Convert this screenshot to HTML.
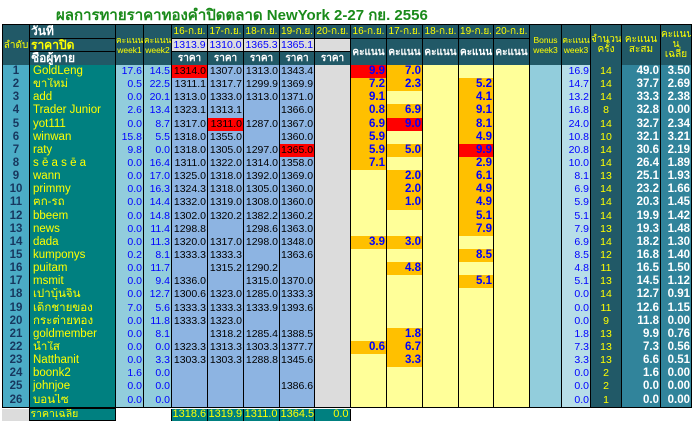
<!DOCTYPE html>
<html><head><meta charset="utf-8"><style>
body{margin:0;background:#fff;width:695px;height:426px;overflow:hidden;font-family:"Liberation Sans","Noto Sans CJK SC",sans-serif;}
.t{position:absolute;left:56px;top:3px;font-size:15px;font-weight:bold;color:#1a8a1a;white-space:nowrap;}
table{position:absolute;left:2px;border-collapse:collapse;table-layout:fixed;width:689px;}
td{padding:0 1px;font-size:10.5px;line-height:11px;overflow:hidden;white-space:nowrap;border-left:1px solid #000;border-right:1px solid #000;height:10px;}
.h td{background:#215967;color:#fff;border:1px solid #000;text-align:center;font-weight:bold;font-size:10px;}
.h .y{color:#ffff00;font-weight:normal;}
.h .sm{font-size:8.5px;line-height:10px;font-weight:normal;color:#ffff00;}
.h .cp{background:#dcdcdc;color:#0000ff;font-weight:normal;font-size:10.5px;}
.r{background:#4bacc6;color:#17375e;font-weight:bold;text-align:center;font-size:11.5px;}
.n{background:#008080;color:#ffff00;font-size:11.5px;padding-left:3px;}
.w{background:#92cddc;color:#0000ff;text-align:right;}
.p{background:#8db4e2;color:#000;text-align:right;}
.pr{background:#ff0000;color:#000;text-align:right;}
.g{background:#dcdcdc;}
.s{background:#ffff99;color:#0000ff;font-weight:bold;text-align:right;font-size:11.5px;}
.o{background:#ffc000;color:#0000ff;font-weight:bold;text-align:right;font-size:11.5px;}
.sr{background:#ff0000;color:#0000ff;font-weight:bold;text-align:right;font-size:11.5px;}
.b{background:#92cddc;}
.w3{background:#b7dee8;color:#0000ff;text-align:right;}
.c{background:#215967;color:#ffff00;text-align:center;}
.tt{background:#31849b;color:#fff;font-weight:bold;text-align:right;font-size:11.5px;}
.last td{border-bottom:1px solid #000;}
.f td{border:none;}
.f .fn{background:#008080;color:#ffff00;border:1px solid #000;}
.f .fp{background:#008080;color:#ffff00;text-align:right;border-left:1px solid #000;font-size:11px;}
</style></head><body>
<div class="t">ผลการทายราคาทองคำปิดตลาด NewYork 2-27 กย. 2556</div>
<table style="top:24px;height:41px">
<colgroup><col style="width:27px"><col style="width:86px"><col style="width:28px"><col style="width:28px"><col style="width:36px"><col style="width:36px"><col style="width:36px"><col style="width:35px"><col style="width:36px"><col style="width:36px"><col style="width:36px"><col style="width:36px"><col style="width:35px"><col style="width:36px"><col style="width:32px"><col style="width:29px"><col style="width:31px"><col style="width:39px"><col style="width:31px"></colgroup>
<tr class="h" style="height:14px"><td rowspan="3" class="y" style="padding:0">ลำดับ</td><td style="text-align:left;font-size:12px">วันที่</td><td rowspan="3" class="sm" style="padding:0">คะแนน<br>week1</td><td rowspan="3" class="sm" style="padding:0">คะแนน<br>week2</td><td class="y">16-ก.ย.</td><td class="y">17-ก.ย.</td><td class="y">18-ก.ย.</td><td class="y">19-ก.ย.</td><td class="y">20-ก.ย.</td><td class="y">16-ก.ย.</td><td class="y">17-ก.ย.</td><td class="y">18-ก.ย.</td><td class="y">19-ก.ย.</td><td class="y">20-ก.ย.</td><td rowspan="3" class="sm" style="padding:0">Bonus<br>week3</td><td rowspan="3" class="sm" style="padding:0">คะแนน<br>week3</td><td rowspan="3" class="sm" style="padding:0;font-size:10px">จำนวน<br>ครั้ง</td><td rowspan="3" class="sm" style="padding:0;font-size:10px">คะแนน<br>สะสม</td><td rowspan="3" class="sm" style="padding:0;font-size:10px">คะแนน<br>น<br>เฉลี่ย</td></tr>
<tr class="h" style="height:13px"><td class="y" style="text-align:left;font-size:12px;font-weight:bold">ราคาปิด</td><td class="cp">1313.9</td><td class="cp">1310.0</td><td class="cp">1365.3</td><td class="cp">1365.1</td><td class="cp"></td><td rowspan="2">คะแนน</td><td rowspan="2">คะแนน</td><td rowspan="2">คะแนน</td><td rowspan="2">คะแนน</td><td rowspan="2">คะแนน</td></tr>
<tr class="h" style="height:14px"><td style="text-align:left;font-size:12px">ชื่อผู้ทาย</td><td>ราคา</td><td>ราคา</td><td>ราคา</td><td>ราคา</td><td>ราคา</td></tr>
</table>
<table style="top:65px;height:343px">
<colgroup><col style="width:27px"><col style="width:86px"><col style="width:28px"><col style="width:28px"><col style="width:36px"><col style="width:36px"><col style="width:36px"><col style="width:35px"><col style="width:36px"><col style="width:36px"><col style="width:36px"><col style="width:36px"><col style="width:35px"><col style="width:36px"><col style="width:32px"><col style="width:29px"><col style="width:31px"><col style="width:39px"><col style="width:31px"></colgroup>
<tr><td class="r">1</td><td class="n">GoldLeng</td><td class="w">17.6</td><td class="w">14.5</td><td class="pr">1314.0</td><td class="p">1307.0</td><td class="p">1313.0</td><td class="p">1343.4</td><td class="g"></td><td class="sr">9.9</td><td class="o">7.0</td><td class="s"></td><td class="s"></td><td class="s"></td><td class="b"></td><td class="w3">16.9</td><td class="c">14</td><td class="tt">49.0</td><td class="tt">3.50</td></tr>
<tr><td class="r">2</td><td class="n">ขาใหม่</td><td class="w">0.5</td><td class="w">22.5</td><td class="p">1311.1</td><td class="p">1317.7</td><td class="p">1299.9</td><td class="p">1369.9</td><td class="g"></td><td class="o">7.2</td><td class="o">2.3</td><td class="s"></td><td class="o">5.2</td><td class="s"></td><td class="b"></td><td class="w3">14.7</td><td class="c">14</td><td class="tt">37.7</td><td class="tt">2.69</td></tr>
<tr><td class="r">3</td><td class="n">add</td><td class="w">0.0</td><td class="w">20.1</td><td class="p">1313.0</td><td class="p">1333.0</td><td class="p">1313.0</td><td class="p">1371.0</td><td class="g"></td><td class="o">9.1</td><td class="s"></td><td class="s"></td><td class="o">4.1</td><td class="s"></td><td class="b"></td><td class="w3">13.2</td><td class="c">14</td><td class="tt">33.3</td><td class="tt">2.38</td></tr>
<tr><td class="r">4</td><td class="n">Trader Junior</td><td class="w">2.6</td><td class="w">13.4</td><td class="p">1323.1</td><td class="p">1313.1</td><td class="p"></td><td class="p">1366.0</td><td class="g"></td><td class="o">0.8</td><td class="o">6.9</td><td class="s"></td><td class="o">9.1</td><td class="s"></td><td class="b"></td><td class="w3">16.8</td><td class="c">8</td><td class="tt">32.8</td><td class="tt">0.00</td></tr>
<tr><td class="r">5</td><td class="n">yot111</td><td class="w">0.0</td><td class="w">8.7</td><td class="p">1317.0</td><td class="pr">1311.0</td><td class="p">1287.0</td><td class="p">1367.0</td><td class="g"></td><td class="o">6.9</td><td class="sr">9.0</td><td class="s"></td><td class="o">8.1</td><td class="s"></td><td class="b"></td><td class="w3">24.0</td><td class="c">14</td><td class="tt">32.7</td><td class="tt">2.34</td></tr>
<tr><td class="r">6</td><td class="n">winwan</td><td class="w">15.8</td><td class="w">5.5</td><td class="p">1318.0</td><td class="p">1355.0</td><td class="p"></td><td class="p">1360.0</td><td class="g"></td><td class="o">5.9</td><td class="s"></td><td class="s"></td><td class="o">4.9</td><td class="s"></td><td class="b"></td><td class="w3">10.8</td><td class="c">10</td><td class="tt">32.1</td><td class="tt">3.21</td></tr>
<tr><td class="r">7</td><td class="n">raty</td><td class="w">9.8</td><td class="w">0.0</td><td class="p">1318.0</td><td class="p">1305.0</td><td class="p">1297.0</td><td class="pr">1365.0</td><td class="g"></td><td class="o">5.9</td><td class="o">5.0</td><td class="s"></td><td class="sr">9.9</td><td class="s"></td><td class="b"></td><td class="w3">20.8</td><td class="c">14</td><td class="tt">30.6</td><td class="tt">2.19</td></tr>
<tr><td class="r">8</td><td class="n">s ē a s ē a</td><td class="w">0.0</td><td class="w">16.4</td><td class="p">1311.0</td><td class="p">1322.0</td><td class="p">1314.0</td><td class="p">1358.0</td><td class="g"></td><td class="o">7.1</td><td class="s"></td><td class="s"></td><td class="o">2.9</td><td class="s"></td><td class="b"></td><td class="w3">10.0</td><td class="c">14</td><td class="tt">26.4</td><td class="tt">1.89</td></tr>
<tr><td class="r">9</td><td class="n">wann</td><td class="w">0.0</td><td class="w">17.0</td><td class="p">1325.0</td><td class="p">1318.0</td><td class="p">1392.0</td><td class="p">1369.0</td><td class="g"></td><td class="s"></td><td class="o">2.0</td><td class="s"></td><td class="o">6.1</td><td class="s"></td><td class="b"></td><td class="w3">8.1</td><td class="c">13</td><td class="tt">25.1</td><td class="tt">1.93</td></tr>
<tr><td class="r">10</td><td class="n">primmy</td><td class="w">0.0</td><td class="w">16.3</td><td class="p">1324.3</td><td class="p">1318.0</td><td class="p">1305.0</td><td class="p">1360.0</td><td class="g"></td><td class="s"></td><td class="o">2.0</td><td class="s"></td><td class="o">4.9</td><td class="s"></td><td class="b"></td><td class="w3">6.9</td><td class="c">14</td><td class="tt">23.2</td><td class="tt">1.66</td></tr>
<tr><td class="r">11</td><td class="n">ฅก-รถ</td><td class="w">0.0</td><td class="w">14.4</td><td class="p">1332.0</td><td class="p">1319.0</td><td class="p">1308.0</td><td class="p">1360.0</td><td class="g"></td><td class="s"></td><td class="o">1.0</td><td class="s"></td><td class="o">4.9</td><td class="s"></td><td class="b"></td><td class="w3">5.9</td><td class="c">14</td><td class="tt">20.3</td><td class="tt">1.45</td></tr>
<tr><td class="r">12</td><td class="n">bbeem</td><td class="w">0.0</td><td class="w">14.8</td><td class="p">1302.0</td><td class="p">1320.2</td><td class="p">1382.2</td><td class="p">1360.2</td><td class="g"></td><td class="s"></td><td class="s"></td><td class="s"></td><td class="o">5.1</td><td class="s"></td><td class="b"></td><td class="w3">5.1</td><td class="c">14</td><td class="tt">19.9</td><td class="tt">1.42</td></tr>
<tr><td class="r">13</td><td class="n">news</td><td class="w">0.0</td><td class="w">11.4</td><td class="p">1298.8</td><td class="p"></td><td class="p">1298.6</td><td class="p">1363.0</td><td class="g"></td><td class="s"></td><td class="s"></td><td class="s"></td><td class="o">7.9</td><td class="s"></td><td class="b"></td><td class="w3">7.9</td><td class="c">13</td><td class="tt">19.3</td><td class="tt">1.48</td></tr>
<tr><td class="r">14</td><td class="n">dada</td><td class="w">0.0</td><td class="w">11.3</td><td class="p">1320.0</td><td class="p">1317.0</td><td class="p">1298.0</td><td class="p">1348.0</td><td class="g"></td><td class="o">3.9</td><td class="o">3.0</td><td class="s"></td><td class="s"></td><td class="s"></td><td class="b"></td><td class="w3">6.9</td><td class="c">14</td><td class="tt">18.2</td><td class="tt">1.30</td></tr>
<tr><td class="r">15</td><td class="n">kumponys</td><td class="w">0.2</td><td class="w">8.1</td><td class="p">1333.3</td><td class="p">1333.3</td><td class="p"></td><td class="p">1363.6</td><td class="g"></td><td class="s"></td><td class="s"></td><td class="s"></td><td class="o">8.5</td><td class="s"></td><td class="b"></td><td class="w3">8.5</td><td class="c">12</td><td class="tt">16.8</td><td class="tt">1.40</td></tr>
<tr><td class="r">16</td><td class="n">puitam</td><td class="w">0.0</td><td class="w">11.7</td><td class="p"></td><td class="p">1315.2</td><td class="p">1290.2</td><td class="p"></td><td class="g"></td><td class="s"></td><td class="o">4.8</td><td class="s"></td><td class="s"></td><td class="s"></td><td class="b"></td><td class="w3">4.8</td><td class="c">11</td><td class="tt">16.5</td><td class="tt">1.50</td></tr>
<tr><td class="r">17</td><td class="n">msmit</td><td class="w">0.0</td><td class="w">9.4</td><td class="p">1336.0</td><td class="p"></td><td class="p">1315.0</td><td class="p">1370.0</td><td class="g"></td><td class="s"></td><td class="s"></td><td class="s"></td><td class="o">5.1</td><td class="s"></td><td class="b"></td><td class="w3">5.1</td><td class="c">13</td><td class="tt">14.5</td><td class="tt">1.12</td></tr>
<tr><td class="r">18</td><td class="n">เปาบุ้นจิ้น</td><td class="w">0.0</td><td class="w">12.7</td><td class="p">1300.6</td><td class="p">1323.0</td><td class="p">1285.0</td><td class="p">1333.3</td><td class="g"></td><td class="s"></td><td class="s"></td><td class="s"></td><td class="s"></td><td class="s"></td><td class="b"></td><td class="w3">0.0</td><td class="c">14</td><td class="tt">12.7</td><td class="tt">0.91</td></tr>
<tr><td class="r">19</td><td class="n">เด็กชายของ</td><td class="w">7.0</td><td class="w">5.6</td><td class="p">1333.3</td><td class="p">1333.3</td><td class="p">1333.9</td><td class="p">1393.6</td><td class="g"></td><td class="s"></td><td class="s"></td><td class="s"></td><td class="s"></td><td class="s"></td><td class="b"></td><td class="w3">0.0</td><td class="c">11</td><td class="tt">12.6</td><td class="tt">1.15</td></tr>
<tr><td class="r">20</td><td class="n">กระต่ายทอง</td><td class="w">0.0</td><td class="w">11.8</td><td class="p">1333.3</td><td class="p">1323.0</td><td class="p"></td><td class="p"></td><td class="g"></td><td class="s"></td><td class="s"></td><td class="s"></td><td class="s"></td><td class="s"></td><td class="b"></td><td class="w3">0.0</td><td class="c">9</td><td class="tt">11.8</td><td class="tt">0.00</td></tr>
<tr><td class="r">21</td><td class="n">goldmember</td><td class="w">0.0</td><td class="w">8.1</td><td class="p"></td><td class="p">1318.2</td><td class="p">1285.4</td><td class="p">1388.5</td><td class="g"></td><td class="s"></td><td class="o">1.8</td><td class="s"></td><td class="s"></td><td class="s"></td><td class="b"></td><td class="w3">1.8</td><td class="c">13</td><td class="tt">9.9</td><td class="tt">0.76</td></tr>
<tr><td class="r">22</td><td class="n">น้ำใส</td><td class="w">0.0</td><td class="w">0.0</td><td class="p">1323.3</td><td class="p">1313.3</td><td class="p">1303.3</td><td class="p">1377.7</td><td class="g"></td><td class="o">0.6</td><td class="o">6.7</td><td class="s"></td><td class="s"></td><td class="s"></td><td class="b"></td><td class="w3">7.3</td><td class="c">13</td><td class="tt">7.3</td><td class="tt">0.56</td></tr>
<tr><td class="r">23</td><td class="n">Natthanit</td><td class="w">0.0</td><td class="w">3.3</td><td class="p">1303.3</td><td class="p">1303.3</td><td class="p">1288.8</td><td class="p">1345.6</td><td class="g"></td><td class="s"></td><td class="o">3.3</td><td class="s"></td><td class="s"></td><td class="s"></td><td class="b"></td><td class="w3">3.3</td><td class="c">13</td><td class="tt">6.6</td><td class="tt">0.51</td></tr>
<tr><td class="r">24</td><td class="n">boonk2</td><td class="w">1.6</td><td class="w">0.0</td><td class="p"></td><td class="p"></td><td class="p"></td><td class="p"></td><td class="g"></td><td class="s"></td><td class="s"></td><td class="s"></td><td class="s"></td><td class="s"></td><td class="b"></td><td class="w3">0.0</td><td class="c">2</td><td class="tt">1.6</td><td class="tt">0.00</td></tr>
<tr><td class="r">25</td><td class="n">johnjoe</td><td class="w">0.0</td><td class="w">0.0</td><td class="p"></td><td class="p"></td><td class="p"></td><td class="p">1386.6</td><td class="g"></td><td class="s"></td><td class="s"></td><td class="s"></td><td class="s"></td><td class="s"></td><td class="b"></td><td class="w3">0.0</td><td class="c">2</td><td class="tt">0.0</td><td class="tt">0.00</td></tr>
<tr class="last"><td class="r">26</td><td class="n">บอนไซ</td><td class="w">0.0</td><td class="w">0.0</td><td class="p"></td><td class="p"></td><td class="p"></td><td class="p"></td><td class="g"></td><td class="s"></td><td class="s"></td><td class="s"></td><td class="s"></td><td class="s"></td><td class="b"></td><td class="w3">0.0</td><td class="c">1</td><td class="tt">0.0</td><td class="tt">0.00</td></tr>
</table>
<table style="top:408px;height:13px">
<colgroup><col style="width:27px"><col style="width:86px"><col style="width:28px"><col style="width:28px"><col style="width:36px"><col style="width:36px"><col style="width:36px"><col style="width:35px"><col style="width:36px"><col style="width:36px"><col style="width:36px"><col style="width:36px"><col style="width:35px"><col style="width:36px"><col style="width:32px"><col style="width:29px"><col style="width:31px"><col style="width:39px"><col style="width:31px"></colgroup>
<tr class="f"><td style="background:#dcdcdc"></td><td class="fn">ราคาเฉลี่ย</td><td></td><td></td><td class="fp">1318.6</td><td class="fp">1319.9</td><td class="fp">1311.0</td><td class="fp">1364.5</td><td class="fp" style="border-right:1px solid #000">0.0</td><td></td><td></td><td></td><td></td><td></td><td></td><td></td><td></td><td></td><td></td></tr>
</table>
</body></html>
